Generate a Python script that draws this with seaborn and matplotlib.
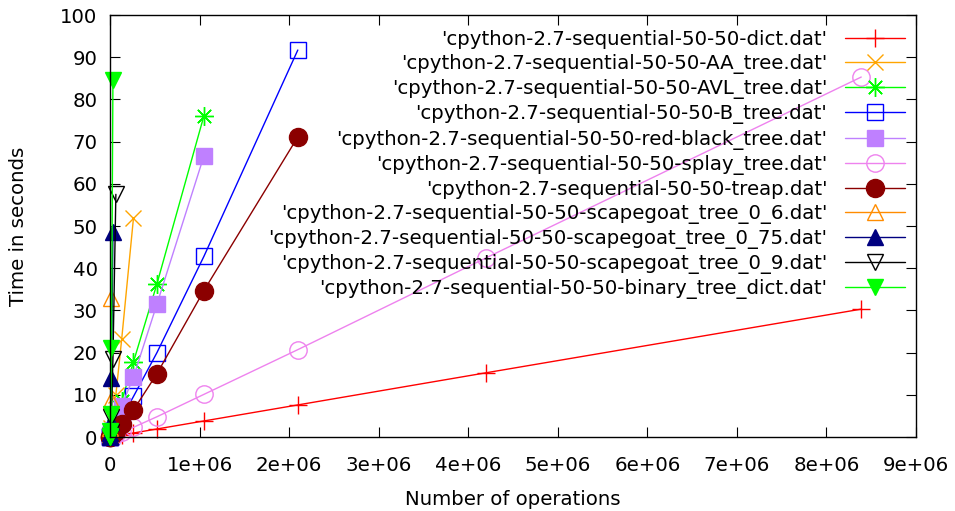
import matplotlib
matplotlib.use("Agg")
import matplotlib.pyplot as plt
import seaborn as sns
import pandas as pd

# ---- data ----
sizes = [1024, 2048, 4096, 8192, 16384, 32768, 65536, 131072, 262144,
         524288, 1048576, 2097152, 4194304, 8388608]

dict_t = [0.004, 0.008, 0.015, 0.03, 0.06, 0.12, 0.24, 0.48, 0.95, 1.9, 3.8, 7.6, 15.2, 30.3]
aa_tree = [0.12, 0.25, 0.5, 1.0, 2.1, 4.5, 10.0, 23.3, 51.9]
avl_tree = [0.06, 0.12, 0.25, 0.5, 1.0, 2.0, 4.1, 8.6, 17.8, 36.3, 76.1]
b_tree = [0.04, 0.08, 0.15, 0.3, 0.6, 1.1, 2.2, 4.6, 9.6, 20.0, 42.8, 91.7]
rb_tree = [0.05, 0.1, 0.2, 0.4, 0.8, 1.6, 3.4, 7.4, 14.2, 31.5, 66.6]
splay_tree = [0.01, 0.02, 0.04, 0.08, 0.15, 0.3, 0.6, 1.15, 2.3, 4.8, 10.1, 20.7, 42.4, 85.3]
treap = [0.02, 0.04, 0.08, 0.16, 0.33, 0.7, 1.4, 3.0, 6.4, 15.0, 34.7, 71.1]
sg_0_6 = [0.14, 0.55, 2.2, 8.8, 33.0]
sg_0_75 = [0.06, 0.22, 0.9, 3.5, 14.0, 48.5]
sg_0_9 = [0.02, 0.08, 0.3, 1.2, 4.8, 18.5, 57.5]
binary_tree = [0.09, 0.35, 1.4, 5.5, 21.1, 84.6]

labels = [
    "'cpython-2.7-sequential-50-50-dict.dat'",
    "'cpython-2.7-sequential-50-50-AA_tree.dat'",
    "'cpython-2.7-sequential-50-50-AVL_tree.dat'",
    "'cpython-2.7-sequential-50-50-B_tree.dat'",
    "'cpython-2.7-sequential-50-50-red-black_tree.dat'",
    "'cpython-2.7-sequential-50-50-splay_tree.dat'",
    "'cpython-2.7-sequential-50-50-treap.dat'",
    "'cpython-2.7-sequential-50-50-scapegoat_tree_0_6.dat'",
    "'cpython-2.7-sequential-50-50-scapegoat_tree_0_75.dat'",
    "'cpython-2.7-sequential-50-50-scapegoat_tree_0_9.dat'",
    "'cpython-2.7-sequential-50-50-binary_tree_dict.dat'",
]
series_values = [dict_t, aa_tree, avl_tree, b_tree, rb_tree, splay_tree, treap,
                 sg_0_6, sg_0_75, sg_0_9, binary_tree]

xtick_values = [0, 1e6, 2e6, 3e6, 4e6, 5e6, 6e6, 7e6, 8e6, 9e6]
xtick_labels = ["0", "1e+06", "2e+06", "3e+06", "4e+06", "5e+06", "6e+06", "7e+06", "8e+06", "9e+06"]
ytick_values = [0, 10, 20, 30, 40, 50, 60, 70, 80, 90, 100]

# ---- styles ----
colors = ["#ff0000", "#ffa500", "#00ff00", "#0000ff", "#bf80ff", "#ee82ee",
          "#8b0000", "#ff8c00", "#000080", "#000000", "#00ff00"]
markers = ["+", "x", (8, 2, 0), "s", "s", "o", "o", "^", "^", "v", "v"]
filled = [False, False, False, False, True, False, True, False, True, False, True]
msizes = [13, 12, 13.5, 11.5, 11.5, 12.5, 13, 12, 12, 12, 12]

FS = 14.2

sns.set_theme(style="ticks", rc={
    "xtick.direction": "in", "ytick.direction": "in",
    "xtick.top": True, "ytick.right": True,
    "xtick.major.size": 7, "ytick.major.size": 7,
    "xtick.major.width": 0.8, "ytick.major.width": 0.8,
    "axes.linewidth": 1.0, "axes.edgecolor": "black",
    "xtick.color": "black", "ytick.color": "black",
    "axes.labelcolor": "black", "text.color": "black",
})
plt.rcParams["font.family"] = ["DejaVu Sans"]

fig = plt.figure(figsize=(9.55, 5.11), dpi=100)
ax = fig.add_axes([110 / 955, 1 - 437 / 511, (916 - 110) / 955, (437 - 15) / 511])

for lab, vals, c, m, f, ms in zip(labels, series_values, colors, markers, filled, msizes):
    df = pd.DataFrame({"x": sizes[:len(vals)], "y": vals})
    sns.lineplot(data=df, x="x", y="y", ax=ax, color=c, marker=m, markersize=ms,
                 markerfacecolor=c if f else "none", markeredgecolor=c,
                 markeredgewidth=1.0, linewidth=1.0, label=lab, estimator=None,
                 clip_on=False)

ax.set_xlim(0, 9e6)
ax.set_ylim(0, 100)
ax.set_xticks(xtick_values)
ax.set_xticklabels(xtick_labels)
ax.set_yticks(ytick_values)
ax.tick_params(axis="x", labelsize=FS, pad=14)
ax.tick_params(axis="y", labelsize=FS, pad=9)
ax.set_xlabel("Number of operations", fontsize=FS)
ax.set_ylabel("Time in seconds", fontsize=FS)
ax.xaxis.set_label_coords(0.5, (437 - 490) / 422)
ax.yaxis.set_label_coords((28 - 110) / 806, 0.5)

leg = ax.legend(loc="upper right", bbox_to_anchor=(905 / 955, 1 - 30 / 511),
                bbox_transform=fig.transFigure, frameon=False, markerfirst=False,
                fontsize=FS, handlelength=3.04, handletextpad=0.9,
                labelspacing=0.26, borderpad=0, borderaxespad=0, numpoints=1)

fig.savefig("out.png", dpi=100)
